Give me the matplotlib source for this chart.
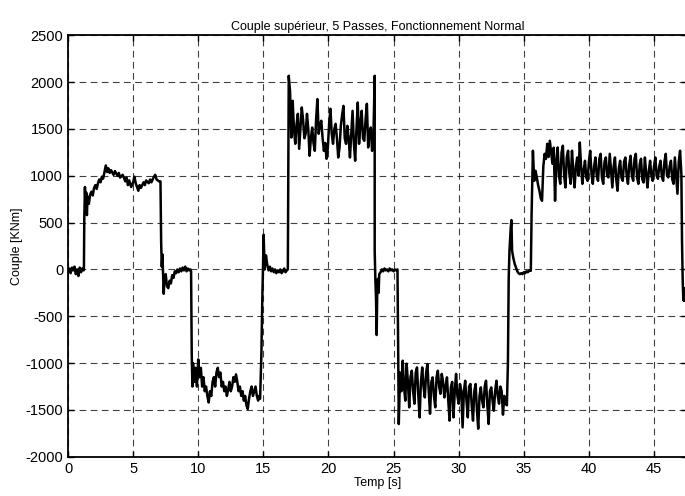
import numpy as np
import matplotlib
matplotlib.use("Agg")
import matplotlib.pyplot as plt

plt.rcParams['font.family'] = ['Liberation Sans', 'DejaVu Sans']
plt.rcParams['axes.unicode_minus'] = False

# ---- values: time [s] / couple [KNm], one pair per phase ----
repos0_t = [0, 0.1, 0.2, 0.3, 0.4, 0.5, 0.6, 0.7, 0.8, 0.9, 1.0, 1.1, 1.2]
repos0_v = [-20, 10, -40, 20, -10, 30, -50, 0, -70, 20, -30, 10, -10]

passe1_t = [1.22, 1.25, 1.3, 1.35, 1.4, 1.45, 1.5, 1.6, 1.7, 1.8, 1.9, 2.0, 2.1,
            2.2, 2.3, 2.4, 2.5, 2.6, 2.7, 2.8, 2.9, 3.0, 3.1, 3.2, 3.3, 3.5,
            3.6, 3.8, 3.9, 4.0, 4.2, 4.4, 4.5, 4.6, 4.7, 4.85, 5.0, 5.1, 5.2,
            5.4, 5.5, 5.6, 5.8, 5.9, 6.0, 6.2, 6.3, 6.4, 6.6, 6.7, 6.8, 6.9,
            7.0, 7.1]
passe1_v = [0, 550, 880, 620, 820, 580, 780, 700, 800, 830, 790, 870, 900,
            860, 920, 960, 930, 990, 970, 1040, 1110, 1040, 1080, 1030, 1060, 1010,
            1050, 1000, 1030, 980, 1010, 940, 980, 900, 950, 880, 930, 990, 920,
            840, 900, 870, 930, 900, 950, 920, 960, 930, 990, 1010, 960, 950,
            940, 940]

repos1_t = [7.15, 7.2, 7.25, 7.3, 7.35, 7.4, 7.5, 7.6, 7.7, 7.8, 7.9, 8.0, 8.1,
            8.2, 8.3, 8.4, 8.5, 8.6, 8.7, 8.8, 8.9, 9.0, 9.1, 9.2, 9.3, 9.4, 9.45]
repos1_v = [300, 30, 160, -60, -260, -100, -50, -180, -200, -120, -150, -60, -90,
            -20, -40, 0, -30, 10, -20, 20, -10, 30, -20, 10, -10, 0, -20]

passe2_t = [9.5, 9.55, 9.6, 9.7, 9.8, 9.9, 10.0, 10.1, 10.2, 10.3, 10.4, 10.5,
            10.6, 10.7, 10.8, 10.9, 11.0, 11.1, 11.2, 11.3, 11.4, 11.5, 11.6,
            11.7, 11.8, 11.9, 12.0, 12.1, 12.2, 12.3, 12.4, 12.5, 12.6, 12.7,
            12.8, 12.9, 13.0, 13.1, 13.2, 13.3, 13.4, 13.5, 13.6, 13.7, 13.8,
            13.9, 14.0, 14.1, 14.2, 14.3, 14.4, 14.5, 14.6, 14.65, 14.75]
passe2_v = [-900, -1250, -1000, -1200, -1050, -1250, -960, -1150, -1050, -1250, -1150, -1300,
            -1250, -1350, -1420, -1300, -1350, -1200, -1150, -1250, -1100, -1050, -1150,
            -1100, -1250, -1200, -1300, -1250, -1350, -1280, -1200, -1300, -1250, -1150,
            -1200, -1120, -1200, -1300, -1250, -1350, -1300, -1400, -1350, -1450, -1490,
            -1380, -1300, -1250, -1350, -1300, -1250, -1350, -1400, -1350, -1380]

repos2_t = [14.85, 14.92, 14.97, 15.02, 15.1, 15.15, 15.2, 15.3, 15.4, 15.5, 15.6,
            15.7, 15.8, 15.9, 16.0, 16.1, 16.2, 16.3, 16.4, 16.5, 16.6, 16.7,
            16.8, 16.88]
repos2_v = [-900, -300, 0, 370, 0, 80, 150, 50, -10, 30, -20,
            10, -30, 0, -40, -10, -30, 0, -40, -20, 10, -30,
            -10, 0]

# passes 3, 4 and 5 read every 0.1 s, first sample at the given start time
passe3_start = 16.95
passe3_v = [2067, 1900, 1408, 1800, 1500, 1341, 1550, 1661, 1288, 1500, 1729,
            1600, 1400, 1448, 1661, 1500, 1213, 1400, 1515, 1350, 1266,
            1600, 1818, 1448, 1550, 1587, 1400, 1266, 1350, 1181, 1300,
            1550, 1715, 1450, 1341, 1500, 1554, 1400, 1195, 1300, 1533,
            1650, 1746, 1400, 1341, 1533, 1400, 1195, 1450, 1693, 1350,
            1160, 1500, 1782, 1341, 1550, 1693, 1400, 1373, 1600, 1768,
            1302, 1450, 1515, 1266, 1400, 2067]

repos3_t = [23.55, 23.6, 23.65, 23.7, 23.75, 23.8, 23.85, 23.9, 24.0, 24.1, 24.2,
            24.3, 24.4, 24.5, 24.6, 24.7, 24.8, 24.9, 25.0, 25.1, 25.2, 25.3]
repos3_v = [200, -100, -300, -700, -200, -100, -250, -50, -30, 0, -20,
            10, -10, 0, -20, 10, -10, 0, -20, 0, -10, 0]

passe4_start = 25.4
passe4_v = [-1650, -1100, -1300, -974, -1250, -1401, -1006, -1200, -1472, -1150,
            -1081, -1300, -1433, -1100, -1046, -1350, -1579, -1200, -1046, -1250,
            -1366, -1100, -1010, -1300, -1540, -1200, -1152, -1350, -1472, -1150,
            -1081, -1250, -1327, -1115, -1200, -1366, -1250, -1152, -1400, -1614,
            -1259, -1200, -1579, -1300, -1115, -1350, -1433, -1223, -1300, -1686,
            -1300, -1188, -1400, -1579, -1250, -1223, -1450, -1614, -1300, -1223,
            -1500, -1700, -1350, -1259, -1400, -1472, -1250, -1188, -1450, -1650,
            -1300, -1259, -1400, -1508, -1300, -1188, -1350, -1433, -1250, -1300,
            -1550, -1350, -1433, -1450]

repos4_t = [33.78, 33.84, 33.9, 34.0, 34.05, 34.1, 34.2, 34.3, 34.4, 34.5, 34.6,
            34.7, 34.8, 34.9, 35.0, 35.1, 35.2, 35.3, 35.45, 35.54]
repos4_v = [-1006, -100, 200, 450, 527, 200, 120, 60, 20, -20, -40,
            -50, -40, -50, -30, -40, -20, -30, -10, -14]

passe5_start = 35.6
passe5_v = [600, 1267, 946, 1053, 980, 900, 840, 760, 733, 1100,
            1234, 1180, 1341, 1200, 1373, 1250, 1128, 1300, 733, 1150,
            1302, 1000, 914, 1250, 1320, 1000, 875, 1200, 1267, 1020,
            914, 1267, 1050, 875, 1100, 1195, 1000, 1355, 1100, 914,
            1060, 1160, 980, 946, 1150, 1267, 1020, 914, 1100, 1195,
            1000, 946, 1180, 1234, 980, 914, 1150, 1195, 1000, 982,
            1234, 1050, 875, 1100, 1195, 960, 840, 1080, 1160, 980,
            946, 1150, 1195, 1000, 914, 1120, 1213, 1000, 946, 1180,
            1234, 980, 914, 1120, 1181, 960, 928, 1195, 1020, 875,
            1050, 1160, 1000, 946, 1100, 1195, 1000, 968, 1100, 1160,
            990, 946, 1150, 1234, 1000, 982, 1100, 1160, 960, 914,
            1195, 1000, 808, 1150, 1267, 1020]

arret_t = [47.15, 47.2, 47.25, 47.3, 47.35]
arret_v = [300, -100, -330, -200, -335]


def sampled(start, vals, step=0.1):
    return start + step * np.arange(len(vals))


phases = [(repos0_t, repos0_v), (passe1_t, passe1_v), (repos1_t, repos1_v),
          (passe2_t, passe2_v), (repos2_t, repos2_v),
          (sampled(passe3_start, passe3_v), passe3_v),
          (repos3_t, repos3_v),
          (sampled(passe4_start, passe4_v), passe4_v),
          (repos4_t, repos4_v),
          (sampled(passe5_start, passe5_v), passe5_v),
          (arret_t, arret_v)]

temps = np.concatenate([np.asarray(p[0], float) for p in phases])
couple = np.concatenate([np.asarray(p[1], float) for p in phases])

x_ticks = [0, 5, 10, 15, 20, 25, 30, 35, 40, 45]
y_ticks = [-2000, -1500, -1000, -500, 0, 500, 1000, 1500, 2000, 2500]

# ---- figure ----
fig = plt.figure(figsize=(6.85, 4.96), dpi=100)
ax = fig.add_axes([0.0993, 0.079, 0.903, 0.850])

ax.plot(temps, couple, color='black', lw=1.8)

ax.set_xlim(0, 47.5)
ax.set_ylim(-2000, 2500)
ax.set_xticks(x_ticks)
ax.set_yticks(y_ticks)
ax.grid(True, color='black', linestyle=(0, (6, 4)), linewidth=0.8, alpha=0.75)
ax.tick_params(direction='in', length=4, width=1, labelsize=10.5,
               top=True, right=True)
for s in ax.spines.values():
    s.set_linewidth(1.3)

ax.set_title('Couple supérieur, 5 Passes, Fonctionnement Normal', fontsize=9, pad=4)
ax.set_xlabel('Temp [s]', fontsize=9, labelpad=1)
ax.set_ylabel('Couple [KNm]', fontsize=9, labelpad=2)

fig.savefig('out.png', dpi=100)
